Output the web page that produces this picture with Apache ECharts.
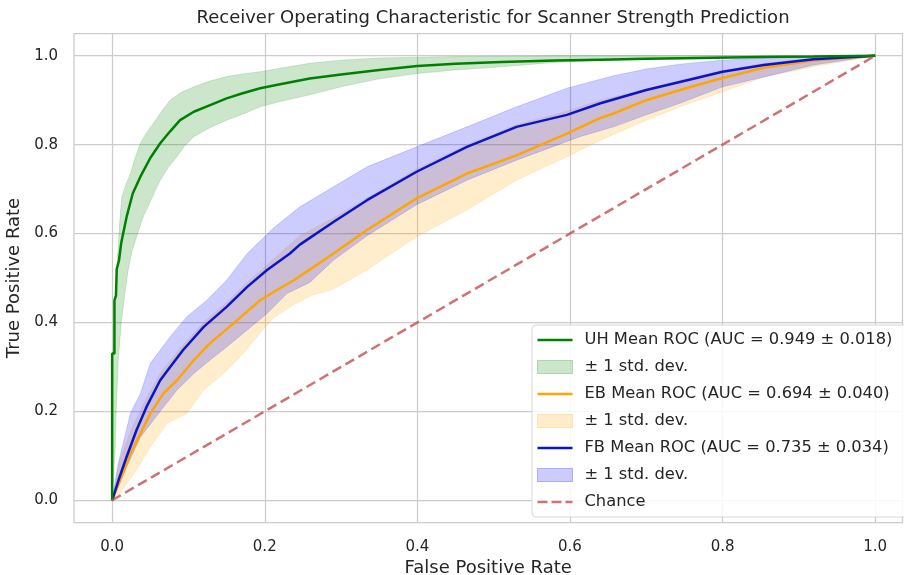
<!DOCTYPE html>
<html>
<head>
<meta charset="utf-8">
<script src="https://cdn.jsdelivr.net/npm/echarts@6/dist/echarts.min.js"></script>
<style>
  html, body { margin: 0; padding: 0; background: #fff; }
  #chart { width: 904px; height: 575px; }
</style>
</head>
<body>
<div id="chart"></div>
<script>
// ---- ROC data (false positive rate / true positive rate) ----
const TITLE = 'Receiver Operating Characteristic for Scanner Strength Prediction';
const X_NAME = 'False Positive Rate';
const Y_NAME = 'True Positive Rate';
const TICKS = [0, 0.2, 0.4, 0.6, 0.8, 1.0];

// UH
const uhMeanFpr = [0, 0, 0.003, 0.003, 0.005, 0.006, 0.009, 0.012, 0.019, 0.027, 0.037, 0.05, 0.063, 0.076, 0.089, 0.107, 0.13, 0.15, 0.17, 0.194, 0.22, 0.259, 0.3, 0.35, 0.4, 0.45, 0.51, 0.58, 0.64, 0.7, 0.77, 0.85, 0.92, 1.0];
const uhMeanTpr = [0, 0.33, 0.33, 0.45, 0.46, 0.52, 0.54, 0.58, 0.638, 0.69, 0.728, 0.77, 0.803, 0.83, 0.855, 0.874, 0.89, 0.904, 0.915, 0.927, 0.936, 0.949, 0.958, 0.968, 0.977, 0.982, 0.986, 0.989, 0.991, 0.993, 0.995, 0.997, 0.998, 1.0];
const uhUpperFpr = [0, 0.001, 0.003, 0.006, 0.0105, 0.0127, 0.018, 0.024, 0.03, 0.037, 0.045, 0.054, 0.065, 0.076, 0.09, 0.107, 0.128, 0.15, 0.17, 0.194, 0.22, 0.259, 0.3, 0.35, 0.45, 0.6, 0.8, 1.0];
const uhUpperTpr = [0, 0.3, 0.42, 0.52, 0.64, 0.683, 0.71, 0.735, 0.77, 0.803, 0.827, 0.848, 0.875, 0.9, 0.917, 0.93, 0.943, 0.953, 0.959, 0.964, 0.972, 0.983, 0.99, 0.995, 0.998, 1.0, 1.0, 1.0];
const uhLowerFpr = [0, 0.004, 0.005, 0.008, 0.012, 0.017, 0.021, 0.026, 0.032, 0.04, 0.05, 0.056, 0.063, 0.074, 0.085, 0.095, 0.107, 0.128, 0.15, 0.17, 0.194, 0.22, 0.259, 0.3, 0.35, 0.4, 0.45, 0.51, 0.58, 0.68, 0.8, 0.9, 1.0];
const uhLowerTpr = [0, 0.12, 0.19, 0.315, 0.4, 0.47, 0.518, 0.56, 0.593, 0.635, 0.672, 0.695, 0.72, 0.75, 0.773, 0.797, 0.818, 0.838, 0.855, 0.868, 0.885, 0.897, 0.912, 0.93, 0.948, 0.96, 0.968, 0.975, 0.985, 0.992, 0.997, 0.999, 1.0];

// EB
const ebMeanFpr = [0, 0.0105, 0.024, 0.037, 0.05, 0.067, 0.085, 0.107, 0.128, 0.159, 0.194, 0.216, 0.238, 0.26, 0.29, 0.334, 0.399, 0.465, 0.53, 0.596, 0.64, 0.657, 0.70, 0.744, 0.80, 0.854, 0.919, 1.0];
const ebMeanTpr = [0, 0.045, 0.105, 0.15, 0.195, 0.24, 0.27, 0.315, 0.353, 0.398, 0.45, 0.473, 0.495, 0.52, 0.555, 0.608, 0.679, 0.735, 0.776, 0.825, 0.86, 0.87, 0.90, 0.923, 0.95, 0.973, 0.989, 1.0];
const ebUpperFpr = [0, 0.01, 0.024, 0.045, 0.063, 0.093, 0.12, 0.15, 0.177, 0.203, 0.246, 0.29, 0.334, 0.399, 0.465, 0.53, 0.596, 0.64, 0.70, 0.744, 0.80, 0.854, 0.919, 1.0];
const ebUpperTpr = [0, 0.09, 0.155, 0.23, 0.285, 0.35, 0.4, 0.445, 0.49, 0.53, 0.595, 0.635, 0.68, 0.745, 0.8, 0.845, 0.875, 0.9, 0.925, 0.945, 0.967, 0.983, 0.994, 1.0];
const ebLowerFpr = [0, 0.01, 0.032, 0.05, 0.072, 0.098, 0.12, 0.146, 0.168, 0.19, 0.211, 0.238, 0.26, 0.29, 0.334, 0.399, 0.465, 0.53, 0.596, 0.64, 0.70, 0.744, 0.80, 0.854, 0.919, 1.0];
const ebLowerTpr = [0, 0.015, 0.068, 0.12, 0.173, 0.195, 0.248, 0.285, 0.323, 0.368, 0.41, 0.44, 0.46, 0.475, 0.518, 0.593, 0.653, 0.72, 0.773, 0.81, 0.855, 0.885, 0.919, 0.952, 0.975, 1.0];

// FB
const fbMeanFpr = [0, 0.0083, 0.019, 0.032, 0.045, 0.063, 0.076, 0.093, 0.12, 0.15, 0.177, 0.203, 0.233, 0.246, 0.29, 0.334, 0.399, 0.465, 0.53, 0.596, 0.64, 0.70, 0.744, 0.80, 0.854, 0.919, 1.0];
const fbMeanTpr = [0, 0.045, 0.098, 0.158, 0.21, 0.27, 0.30, 0.338, 0.39, 0.435, 0.48, 0.518, 0.555, 0.575, 0.626, 0.675, 0.739, 0.795, 0.84, 0.867, 0.893, 0.923, 0.941, 0.964, 0.979, 0.992, 1.0];
const fbUpperFpr = [0, 0.008, 0.024, 0.037, 0.05, 0.076, 0.098, 0.124, 0.15, 0.177, 0.211, 0.246, 0.29, 0.334, 0.399, 0.465, 0.53, 0.596, 0.657, 0.70, 0.744, 0.80, 0.875, 1.0];
const fbUpperTpr = [0, 0.083, 0.196, 0.24, 0.308, 0.368, 0.413, 0.45, 0.495, 0.555, 0.612, 0.66, 0.705, 0.75, 0.795, 0.84, 0.885, 0.927, 0.955, 0.97, 0.981, 0.99, 0.997, 1.0];
const fbLowerFpr = [0, 0.019, 0.037, 0.063, 0.085, 0.107, 0.128, 0.15, 0.177, 0.203, 0.229, 0.259, 0.29, 0.334, 0.399, 0.465, 0.53, 0.613, 0.657, 0.70, 0.744, 0.80, 0.854, 0.919, 1.0];
const fbLowerTpr = [0, 0.075, 0.142, 0.2, 0.248, 0.285, 0.315, 0.345, 0.383, 0.42, 0.465, 0.49, 0.54, 0.595, 0.665, 0.72, 0.765, 0.818, 0.84, 0.867, 0.893, 0.93, 0.952, 0.979, 1.0];

// Chance diagonal
const chanceFpr = [0, 1];
const chanceTpr = [0, 1];

// Legend labels
const uhLabel = 'UH Mean ROC (AUC = 0.949 ± 0.018)';
const ebLabel = 'EB Mean ROC (AUC = 0.694 ± 0.040)';
const fbLabel = 'FB Mean ROC (AUC = 0.735 ± 0.034)';
const stdLabel = '± 1 std. dev.';
const chanceLabel = 'Chance';

// ---- helpers ----
const FONT = 'DejaVu Sans';
const TEXT = '#262626';
const GRID = '#cccccc';

function pairs(xs, ys) { return xs.map((x, i) => [x, ys[i]]); }
function bandPolygon(uf, ut, lf, lt) {
  return pairs(uf, ut).concat(pairs(lf, lt).reverse());
}

function bandSeries(id, poly, fill, stroke) {
  return {
    id: id, name: id, type: 'custom', z: 1, silent: true,
    itemStyle: { color: fill },
    data: poly,
    encode: { x: 0, y: 1 },
    renderItem: function (params, api) {
      if (params.dataIndex !== 0) return null;
      const pts = poly.map(p => api.coord(p));
      return {
        type: 'polygon',
        shape: { points: pts },
        style: { fill: fill, stroke: stroke, lineWidth: 1 }
      };
    }
  };
}

function meanSeries(name, xs, ys, color, z) {
  return {
    name: name, type: 'line', z: z, symbol: 'none', silent: true,
    data: pairs(xs, ys),
    lineStyle: { color: color, width: 2.5 },
    itemStyle: { color: color }
  };
}

const GREEN = '#008000', ORANGE = '#ffa500', BLUE = '#0a14c8', RED = 'rgba(196,78,82,0.8)';
const LINE_ICON = 'path://M0,0H35V2.5H0Z';
const DASH_ICON = 'path://M0,0H10V2.5H0Z M14,0H24V2.5H14Z M28,0H35V2.5H28Z';
const legendText = {
  'uh': uhLabel, 'uhBand': stdLabel,
  'eb': ebLabel, 'ebBand': stdLabel,
  'fb': fbLabel, 'fbBand': stdLabel,
  'chance': chanceLabel
};

const chart = echarts.init(document.getElementById('chart'), null, { renderer: 'canvas' });
chart.setOption({
  animation: false,
  backgroundColor: '#ffffff',
  textStyle: { fontFamily: FONT },
  title: {
    text: TITLE, left: 493, top: 9, textAlign: 'center', padding: 0,
    textStyle: { fontFamily: FONT, fontSize: 18, fontWeight: 'normal', color: TEXT }
  },
  grid: {
    left: 74, top: 33.5, width: 828.5, height: 489,
    containLabel: false, outerBoundsMode: 'none',
    show: true, borderColor: GRID, borderWidth: 1.25, backgroundColor: 'transparent'
  },
  xAxis: {
    type: 'value', min: -0.05, max: 1.0358,
    axisLine: { show: false, onZero: false },
    axisTick: { show: false, customValues: TICKS },
    axisLabel: { customValues: TICKS, formatter: v => v.toFixed(1), margin: 17, fontSize: 15, color: TEXT, fontFamily: FONT },
    splitLine: { show: true, lineStyle: { color: GRID, width: 1.25 } },
    name: X_NAME, nameLocation: 'middle', nameGap: 34,
    nameTextStyle: { fontSize: 18, color: TEXT, fontFamily: FONT }
  },
  yAxis: {
    type: 'value', min: -0.05, max: 1.05,
    axisLine: { show: false, onZero: false },
    axisTick: { show: false, customValues: TICKS },
    axisLabel: { customValues: TICKS, formatter: v => v.toFixed(1), margin: 16, fontSize: 15, color: TEXT, fontFamily: FONT },
    splitLine: { show: true, lineStyle: { color: GRID, width: 1.25 } },
    name: Y_NAME, nameLocation: 'middle', nameGap: 50,
    nameTextStyle: { fontSize: 18, color: TEXT, fontFamily: FONT }
  },
  legend: {
    orient: 'vertical', left: 532, top: 325,
    padding: [7, 16, 7, 5],
    backgroundColor: 'rgba(255,255,255,0.85)', borderColor: '#d6d6d6', borderWidth: 1, borderRadius: 4,
    itemWidth: 35, itemHeight: 13, itemGap: 11,
    symbolKeepAspect: true,
    selectedMode: false,
    formatter: name => legendText[name],
    textStyle: { fontFamily: FONT, fontSize: 16.3, color: TEXT, padding: [0, 0, 0, 7] },
    data: [
      { name: 'uh', icon: LINE_ICON, itemStyle: { color: GREEN } },
      { name: 'uhBand', icon: 'rect', itemStyle: { color: 'rgba(0,128,0,0.2)', borderColor: 'rgba(0,128,0,0.25)', borderWidth: 1 } },
      { name: 'eb', icon: LINE_ICON, itemStyle: { color: ORANGE } },
      { name: 'ebBand', icon: 'rect', itemStyle: { color: 'rgba(255,165,0,0.2)', borderColor: 'rgba(255,165,0,0.25)', borderWidth: 1 } },
      { name: 'fb', icon: LINE_ICON, itemStyle: { color: BLUE } },
      { name: 'fbBand', icon: 'rect', itemStyle: { color: 'rgba(0,0,255,0.2)', borderColor: 'rgba(0,0,255,0.25)', borderWidth: 1 } },
      { name: 'chance', icon: DASH_ICON, itemStyle: { color: RED } }
    ]
  },
  series: [
    bandSeries('uhBand', bandPolygon(uhUpperFpr, uhUpperTpr, uhLowerFpr, uhLowerTpr), 'rgba(0,128,0,0.2)', 'rgba(0,128,0,0.15)'),
    bandSeries('ebBand', bandPolygon(ebUpperFpr, ebUpperTpr, ebLowerFpr, ebLowerTpr), 'rgba(255,165,0,0.2)', 'rgba(255,165,0,0.15)'),
    bandSeries('fbBand', bandPolygon(fbUpperFpr, fbUpperTpr, fbLowerFpr, fbLowerTpr), 'rgba(0,0,255,0.2)', 'rgba(0,0,255,0.15)'),
    meanSeries('eb', ebMeanFpr, ebMeanTpr, ORANGE, 3),
    meanSeries('fb', fbMeanFpr, fbMeanTpr, BLUE, 4),
    meanSeries('uh', uhMeanFpr, uhMeanTpr, GREEN, 5),
    {
      name: 'chance', type: 'line', z: 6, symbol: 'none', silent: true,
      data: pairs(chanceFpr, chanceTpr),
      lineStyle: { color: RED, width: 2.5, type: [10, 5] },
      itemStyle: { color: RED }
    }
  ]
});
</script>
</body>
</html>
